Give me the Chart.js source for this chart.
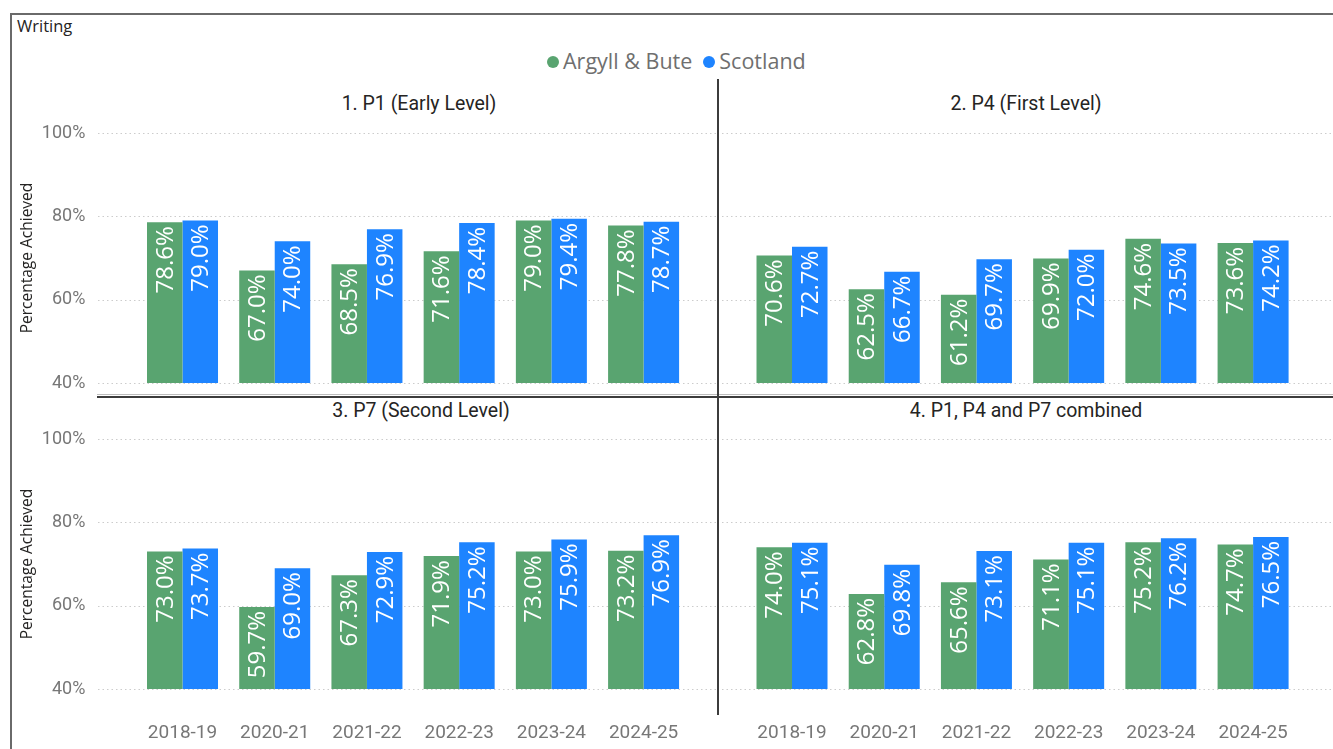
<!DOCTYPE html>
<html>
<head>
<meta charset="utf-8">
<script src="https://cdn.jsdelivr.net/npm/chart.js@4.4.1/dist/chart.umd.min.js"></script>
<style>
  body { margin: 0; width: 1333px; height: 749px; overflow: hidden; background: #fff; position: relative; font-family: "Open Sans", sans-serif; }
  .abs { position: absolute; }
  canvas { position: absolute; }
  .frame { left: 10px; top: 13px; width: 1330px; height: 740px; border-top: 2px solid #6a6a6a; border-left: 2px solid #6a6a6a; }
  .heading { left: 17px; top: 14px; font-size: 16.5px; color: #252423; }
  .legend { top: 46px; left: 547px; font-size: 21.5px; color: #6f6f6f; white-space: nowrap; }
  .legend span.dot { display: inline-block; width: 12px; height: 12px; border-radius: 50%; margin: 0 4px 3px 0; vertical-align: middle; }
  .legend span.gap { display: inline-block; width: 11px; }
  .ptitle { font-family: Roboto, sans-serif; font-size: 19.5px; color: #252423; width: 400px; text-align: center; }
  .vline { left: 717px; top: 79px; width: 2px; height: 636px; background: #3c3c3c; }
  .hline { left: 97px; top: 396px; width: 1236px; height: 2px; background: #3c3c3c; }
  .hline2 { left: 97px; top: 394px; width: 1236px; height: 1px; background: #bdbdbd; }
</style>
</head>
<body>
<div class="abs frame"></div>
<div class="abs heading">Writing</div>
<div class="abs legend"><span class="dot" style="background:#59A470"></span>Argyll &amp; Bute<span class="gap"></span><span class="dot" style="background:#1E84FF"></span>Scotland</div>

<div class="abs ptitle" id="t1" style="left:219px;top:92px"></div>
<div class="abs ptitle" id="t2" style="left:826px;top:92px"></div>
<div class="abs ptitle" id="t3" style="left:221px;top:399px"></div>
<div class="abs ptitle" id="t4" style="left:826px;top:399px"></div>

<canvas id="c1" width="718" height="317" style="left:0;top:80px"></canvas>
<canvas id="c2" width="615" height="317" style="left:718px;top:80px"></canvas>
<canvas id="c3" width="718" height="351" style="left:0;top:398px"></canvas>
<canvas id="c4" width="615" height="351" style="left:718px;top:398px"></canvas>

<div class="abs hline2"></div>
<div class="abs hline"></div>
<div class="abs vline"></div>

<script>
const years = ['2018-19', '2020-21', '2021-22', '2022-23', '2023-24', '2024-25'];
const yTicks = [40, 60, 80, 100];
const seriesNames = ['Argyll & Bute', 'Scotland'];
const panelTitles = ['1. P1 (Early Level)', '2. P4 (First Level)', '3. P7 (Second Level)', '4. P1, P4 and P7 combined'];

const argyllP1 = [78.6, 67.0, 68.5, 71.6, 79.0, 77.8];
const scotlandP1 = [79.0, 74.0, 76.9, 78.4, 79.4, 78.7];
const argyllP4 = [70.6, 62.5, 61.2, 69.9, 74.6, 73.6];
const scotlandP4 = [72.7, 66.7, 69.7, 72.0, 73.5, 74.2];
const argyllP7 = [73.0, 59.7, 67.3, 71.9, 73.0, 73.2];
const scotlandP7 = [73.7, 69.0, 72.9, 75.2, 75.9, 76.9];
const argyllAll = [74.0, 62.8, 65.6, 71.1, 75.2, 74.7];
const scotlandAll = [75.1, 69.8, 73.1, 75.1, 76.2, 76.5];

const green = '#59A470';
const blue = '#1E84FF';

panelTitles.forEach((t, i) => { document.getElementById('t' + (i + 1)).textContent = t; });

// dotted horizontal grid, wider than the category band (like Power BI)
const dottedGrid = {
    id: 'dottedGrid',
    beforeDatasetsDraw(chart, args, opts) {
        const ctx = chart.ctx;
        const y = chart.scales.y;
        ctx.save();
        ctx.strokeStyle = '#cccccc';
        ctx.lineWidth = 1;
        ctx.setLineDash([1.5, 3]);
        yTicks.forEach(v => {
            const py = Math.round(y.getPixelForValue(v)) + 0.5;
            ctx.beginPath();
            ctx.moveTo(opts.x0, py);
            ctx.lineTo(opts.x1, py);
            ctx.stroke();
        });
        ctx.restore();
    }
};

// rotated white value labels inside the top of each bar
const barLabels = {
    id: 'barLabels',
    afterDatasetsDraw(chart) {
        const ctx = chart.ctx;
        ctx.save();
        ctx.fillStyle = '#ffffff';
        ctx.font = '24px "Open Sans"';
        ctx.textAlign = 'right';
        ctx.textBaseline = 'middle';
        chart.data.datasets.forEach((ds, i) => {
            chart.getDatasetMeta(i).data.forEach((bar, j) => {
                ctx.save();
                ctx.translate(bar.x + 1, bar.y + 4);
                ctx.rotate(-Math.PI / 2);
                ctx.fillText(ds.data[j].toFixed(1) + '%', 0, 0);
                ctx.restore();
            });
        });
        ctx.restore();
    }
};

function makePanel(id, argyll, scotland, p) {
    new Chart(document.getElementById(id), {
        type: 'bar',
        data: {
            labels: years,
            datasets: [
                { label: seriesNames[0], data: argyll, backgroundColor: green },
                { label: seriesNames[1], data: scotland, backgroundColor: blue }
            ]
        },
        options: {
            responsive: false,
            animation: false,
            layout: { padding: p.padding },
            datasets: { bar: { categoryPercentage: 0.77, barPercentage: 1 } },
            plugins: {
                legend: { display: false },
                tooltip: { enabled: false },
                dottedGrid: { x0: p.gridX0, x1: p.gridX1 }
            },
            scales: {
                x: {
                    display: p.showX,
                    grid: { display: false, drawTicks: false },
                    border: { display: false },
                    ticks: { color: '#777777', padding: 33, font: { family: 'Roboto', size: 19 } },
                    afterFit: s => { if (p.showX) s.height = 60; }
                },
                y: {
                    display: p.showY,
                    min: 40,
                    max: 100,
                    grid: { display: false, drawTicks: false },
                    border: { display: false },
                    afterBuildTicks: s => { s.ticks = yTicks.map(v => ({ value: v })); },
                    ticks: { color: '#777777', padding: 51, font: { family: 'Roboto', size: 18 }, callback: v => v + '%' },
                    title: {
                        display: true,
                        text: 'Percentage Achieved',
                        color: '#252423',
                        font: { family: 'Open Sans', size: 15.5 },
                        padding: { top: 18, bottom: 0 }
                    },
                    afterFit: s => {
                        if (p.showY) {
                            s.width = 136.4;
                            s.paddingTop = 0;
                            s.paddingBottom = 0;
                        }
                    }
                }
            }
        },
        plugins: [dottedGrid, barLabels]
    });
}

makePanel('c1', argyllP1, scotlandP1, { showX: false, showY: true, gridX0: 98, gridX1: 716, padding: { left: 0, right: 28.3, top: 53, bottom: 14 } });
makePanel('c2', argyllP4, scotlandP4, { showX: false, showY: false, gridX0: 4, gridX1: 615, padding: { left: 27.9, right: 33.8, top: 53, bottom: 14 } });
makePanel('c3', argyllP7, scotlandP7, { showX: true, showY: true, gridX0: 98, gridX1: 716, padding: { left: 0, right: 28.3, top: 41, bottom: 0 } });
makePanel('c4', argyllAll, scotlandAll, { showX: true, showY: false, gridX0: 4, gridX1: 615, padding: { left: 27.9, right: 33.8, top: 41, bottom: 0 } });
</script>
</body>
</html>
